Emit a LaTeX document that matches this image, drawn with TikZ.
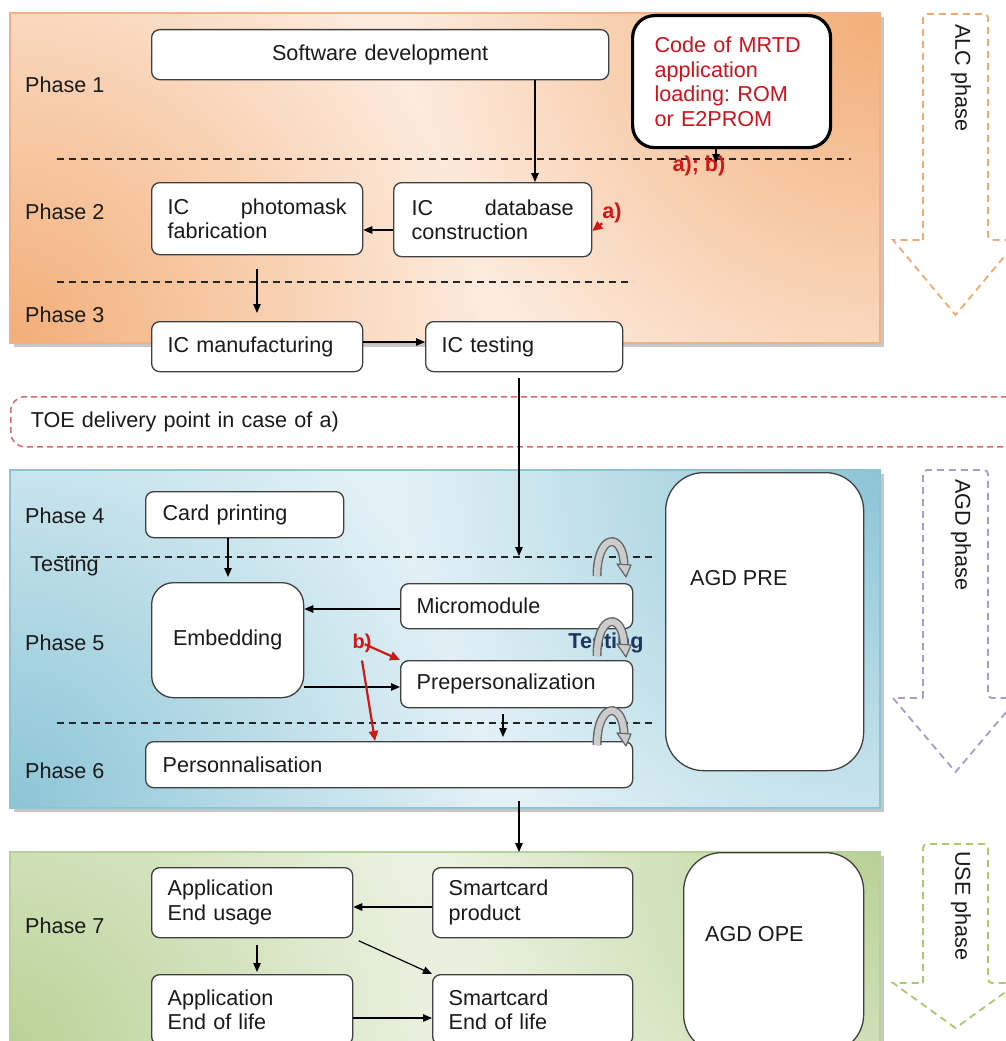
\documentclass[tikz,border=0pt]{standalone}
\usepackage{fontspec}
\setmainfont{Liberation Sans}
\frenchspacing
\usetikzlibrary{arrows.meta,calc,fadings}
\definecolor{txt}{HTML}{1A1A1A}
\definecolor{boxline}{HTML}{404040}
\definecolor{orLight}{HTML}{FDEBDD}
\definecolor{orDark}{HTML}{F3AE78}
\definecolor{orEdge}{HTML}{F0B088}
\definecolor{blLight}{HTML}{E2F1F6}
\definecolor{blDark}{HTML}{8CC5D7}
\definecolor{blEdge}{HTML}{8DC3D3}
\definecolor{grLight}{HTML}{F0F5E8}
\definecolor{grDark}{HTML}{B9D296}
\definecolor{grEdge}{HTML}{B8D099}
\definecolor{redtxt}{HTML}{D0121B}
\definecolor{arrRed}{HTML}{D01818}
\definecolor{toeC}{HTML}{D9696B}
\definecolor{alcC}{HTML}{F5A96E}
\definecolor{agdC}{HTML}{A99CCB}
\definecolor{useC}{HTML}{A9C96E}
\definecolor{navy}{HTML}{1F3560}
\tikzfading[name=blob, inner color=transparent!0, outer color=transparent!100]
\tikzset{uturn/.pic={
  \draw[line width=9pt, black!60] (0,0) .. controls (0,-44) and (27,-44) .. (27,-10);
  \draw[line width=6.2pt, black!20] (0,0.5) .. controls (0,-44) and (27,-44) .. (27,-10);
  \filldraw[fill=black!20, draw=black!60, line width=1.2pt, line join=round] (20,-12) -- (34,-11) -- (29,1) -- cycle;
}}
\begin{document}
\begin{tikzpicture}[x=1pt,y=-1pt,
  font=\fontsize{21.6}{24.5}\selectfont, text=txt,
  box/.style={draw=boxline, fill=white, rounded corners=8pt, line width=1.3pt, inner xsep=16pt, inner ysep=0pt, align=left, anchor=north west},
  bigbox/.style={box, rounded corners=38pt},
  arr/.style={-{Triangle[length=9pt,width=7.5pt]}, line width=1.2pt, draw=black},
  redarr/.style={-{Triangle[length=10pt,width=9pt]}, line width=2.2pt, draw=arrRed},
  sepline/.style={dash pattern=on 7pt off 5pt, line width=1.3pt, draw=black!85},
  phase/.style={anchor=west, inner sep=0pt},
  redlbl/.style={inner sep=0pt, text=arrRed, font=\fontsize{21.6}{24}\selectfont\bfseries},
  phasearrow/.style={dash pattern=on 7pt off 5pt, line width=1.8pt, rounded corners=4pt},
  vtext/.style={rotate=-90, inner sep=0pt}
]
\useasboundingbox (0,0) rectangle (1006,1041);

% ---------- panels ----------
\fill[black!22] (14,17) rectangle (884,347);
\fill[orLight] (10,13) rectangle (880,343);
\begin{scope}
  \clip (10,13) rectangle (880,343);
  \fill[orDark, path fading=blob] (880,13) circle (470pt);
  \fill[orDark, path fading=blob] (10,343) circle (470pt);
\end{scope}
\draw[orEdge, line width=1.2pt] (10,13) rectangle (880,343);

\fill[black!22] (14,474) rectangle (884,812);
\fill[blLight] (10,470) rectangle (880,808);
\begin{scope}
  \clip (10,470) rectangle (880,808);
  \fill[blDark, path fading=blob] (880,470) circle (470pt);
  \fill[blDark, path fading=blob] (10,808) circle (470pt);
\end{scope}
\draw[blEdge, line width=1.2pt] (10,470) rectangle (880,808);

\fill[black!22] (14,856) rectangle (884,1050);
\fill[grLight] (10,852) rectangle (880,1050);
\begin{scope}
  \clip (10,852) rectangle (880,1050);
  \fill[grDark, path fading=blob] (880,852) circle (470pt);
  \fill[grDark, path fading=blob] (10,1050) circle (470pt);
\end{scope}
\draw[grEdge, line width=1.2pt] (10,852) rectangle (880,1050);

% ---------- phase arrows on the right ----------
\draw[phasearrow, alcC] (923,240) -- (923,14) -- (988,14) -- (988,240) [sharp corners] -- (1018,240) -- (955.5,315) -- (893,240) -- cycle;
\node[vtext] (alc) at (961,78) {ALC phase};
\draw[phasearrow, agdC] (923,698) -- (923,470) -- (988,470) -- (988,698) [sharp corners] -- (1018,698) -- (955.5,772) -- (893,698) -- cycle;
\node[vtext] (agd) at (961,535) {AGD phase};
\draw[phasearrow, useC] (923,983) -- (923,844) -- (988,844) -- (988,983) [sharp corners] -- (1018,983) -- (955.5,1028) -- (893,983) -- cycle;
\node[vtext] (use) at (961,906) {USE phase};

% ---------- separators ----------
\draw[sepline] (57,159) -- (851,159);
\draw[sepline] (57,282) -- (633,282);
\draw[sepline] (57,557) -- (655,557);
\draw[sepline] (57,723) -- (655,723);

% ---------- phase labels ----------
\node[phase] (p1) at (25,85) {Phase 1};
\node[phase] (p2) at (25,212) {Phase 2};
\node[phase] (p3) at (25,315) {Phase 3};
\node[phase] (p4) at (25,516) {Phase 4};
\node[phase] (t1) at (30,566) {Testing};
\node[phase] (p5) at (25,643) {Phase 5};
\node[phase] (p6) at (25,771) {Phase 6};
\node[phase] (p7) at (25,926) {Phase 7};

% ---------- orange boxes ----------
\node[box, align=center, text width=425pt, minimum width=457pt, minimum height=50pt] (swdev) at (151,29) {Software development};
\node[box, rounded corners=22pt, line width=3.2pt, draw=black, inner xsep=22pt, text width=154pt, minimum width=198pt, minimum height=132pt, text=redtxt] (code) at (631,14) {Code of MRTD\\application\\loading: ROM\\or E2PROM};
\node[box, text width=179pt, minimum width=211pt, minimum height=72pt] (icpm) at (151,182) {IC\hskip0pt plus1filll photomask\\fabrication};
\node[box, inner xsep=18pt, text width=162pt, minimum width=198pt, minimum height=74pt] (icdb) at (393,182) {IC\hskip0pt plus1filll database\\construction};
\node[box, text width=179pt, minimum width=211pt, minimum height=50pt] (icman) at (151,321) {IC manufacturing};
\node[box, text width=165pt, minimum width=197pt, minimum height=50pt] (ictest) at (425,321) {IC testing};

% ---------- TOE ----------
\node[draw=toeC, dash pattern=on 6pt off 4pt, line width=1.5pt, rounded corners=14pt, anchor=north west, minimum width=1030pt, minimum height=50pt, inner xsep=15pt, inner ysep=0pt, text width=990pt, align=left] (toe) at (10,396) {TOE delivery point in case of a)};

% ---------- blue boxes ----------
\node[box, inner xsep=17pt, text width=164pt, minimum width=198pt, minimum height=46pt] (card) at (145,491) {Card printing};
\node[box, rounded corners=22pt, align=center, inner xsep=4pt, text width=144pt, minimum width=152pt, minimum height=115pt] (emb) at (151,582) {Embedding\\[14pt]};
\node[box, text width=200pt, minimum width=232pt, minimum height=45pt] (micro) at (400,583) {Micromodule};
\node[box, text width=200pt, minimum width=232pt, minimum height=47pt] (prep) at (400,660) {Prepersonalization};
\node[box, inner xsep=17pt, text width=453pt, minimum width=487pt, minimum height=46pt] (pers) at (145,741) {Personnalisation};
\node[bigbox, minimum width=198pt, minimum height=298pt] (agdpre) at (665,472) {};
\node[phase] (agdpretxt) at (690,578) {AGD PRE};
\node[font=\fontsize{21.6}{24}\selectfont\bfseries, text=navy, inner sep=0pt] (testing2) at (606,643) {Testing};

% ---------- green boxes ----------
\node[box, text width=169pt, minimum width=201pt, minimum height=70pt] (appuse) at (151,867) {Application\\End usage};
\node[box, text width=168pt, minimum width=200pt, minimum height=70pt] (smprod) at (432,867) {Smartcard\\product};
\node[box, text width=169pt, minimum width=201pt, minimum height=70pt] (appeol) at (151,974) {Application\\End of life};
\node[box, text width=168pt, minimum width=200pt, minimum height=70pt] (smeol) at (432,974) {Smartcard\\End of life};
\node[bigbox, minimum width=180pt, minimum height=200pt] (agdope) at (683,852) {};
\node[phase] (agdopetxt) at (705,934) {AGD OPE};

% ---------- helper coordinates ----------
\coordinate (c535) at (535,0);
\coordinate (c228) at (228,0);
\coordinate (c503) at (503,0);
\coordinate (c519) at (519,0);
\coordinate (c257) at (257,0);
\coordinate (c375) at (375,0);
\coordinate (tp) at (519,556);
\coordinate (abEnd) at (716,163);

% ---------- connectors ----------
\node[redlbl] (ab) at (699,166) {a); b)};
\draw[arr] (code.south -| abEnd) -- (abEnd);
\draw[arr] (swdev.south -| c535) -- (icdb.north -| c535);
\draw[arr] (icdb.west |- 0,230) -- (icpm.east |- 0,230);
\node[redlbl] (la) at (612,213) {a)};
\draw[redarr] (la.south west) -- (icdb.east |- 0,231);
\draw[arr, shorten <=14pt, shorten >=8pt] (icpm.south -| c257) -- (icman.north -| c257);
\draw[arr] (icman.east |- 0,342) -- (ictest.west |- 0,342);
\draw[arr, shorten <=6pt] (ictest.south -| tp) -- (tp);

\draw[arr, shorten >=5pt] (card.south -| c228) -- (emb.north -| c228);
\draw[arr] (micro.west |- 0,609) -- (emb.east |- 0,609);
\draw[arr] (emb.east |- 0,687) -- (prep.west |- 0,687);
\draw[arr, shorten <=6pt, shorten >=4pt] (prep.south -| c503) -- (pers.north -| c503);
\node[redlbl, font=\fontsize{20}{22}\selectfont\bfseries] (lb) at (362,643) {b)};
\draw[redarr, shorten <=3pt] (lb.center) -- (prep.north west);
\draw[redarr] ($(lb.south)+(0,8)$) -- (pers.north -| c375);

\draw[arr, shorten <=13pt, shorten >=15pt] (pers.south -| c519) -- (smprod.north -| c519);
\draw[arr] (smprod.west |- 0,907) -- (appuse.east |- 0,907);
\draw[arr, shorten <=7pt, shorten >=2pt] (appuse.south -| c257) -- (appeol.north -| c257);
\draw[arr, shorten <=6pt] (appuse.south east) -- (smeol.north west);
\draw[arr] (appeol.east |- 0,1018) -- (smeol.west |- 0,1018);

% ---------- testing loops ----------
\pic at (597,576) {uturn};
\pic at (597,656) {uturn};
\pic at (597,745) {uturn};
\end{tikzpicture}
\end{document}
